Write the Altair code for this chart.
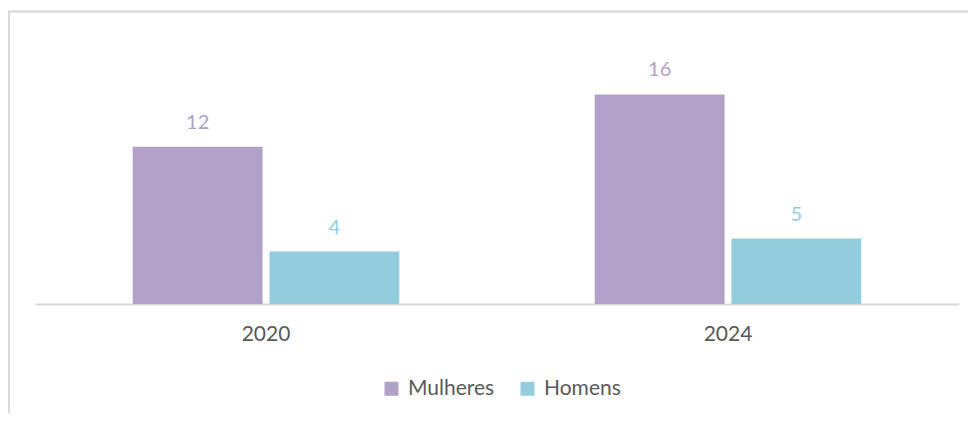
import altair as alt
import pandas as pd

years = ["2020", "2020", "2024", "2024"]
sexes = ["Mulheres", "Homens", "Mulheres", "Homens"]
values = [12, 4, 16, 5]

series_order = ["Mulheres", "Homens"]
series_colors = ["#b2a1c7", "#93cddd"]

df = pd.DataFrame({"ano": years, "sexo": sexes, "valor": values})

FONT = "Lato"
GRAY = "#595959"

x_enc = alt.X("ano:N", title=None,
              scale=alt.Scale(paddingInner=0.423, paddingOuter=0.2115),
              axis=alt.Axis(labelAngle=0, labelFont=FONT, labelFontSize=21,
                            labelColor=GRAY, ticks=False, domainColor="#d9d9d9",
                            domainWidth=2, labelPadding=19))
xoff = alt.XOffset("sexo:N", sort=series_order,
                   scale=alt.Scale(paddingInner=0.05, paddingOuter=0))
y_enc = alt.Y("valor:Q", scale=alt.Scale(domain=[0, 20], nice=False), axis=None)
color_scale = alt.Scale(domain=series_order, range=series_colors)

bars = alt.Chart(df).mark_bar().encode(
    x=x_enc, xOffset=xoff, y=y_enc,
    color=alt.Color("sexo:N", scale=color_scale, sort=series_order,
                    legend=alt.Legend(title=None, orient="none", direction="horizontal",
                                      legendX=346, legendY=336,
                                      symbolType="square", symbolSize=196,
                                      symbolStrokeWidth=0,
                                      labelFont=FONT, labelFontSize=21, labelColor=GRAY,
                                      labelOffset=6, columnPadding=22)),
)

labels = alt.Chart(df).mark_text(font=FONT, fontSize=20, baseline="alphabetic", dy=-18).encode(
    x=x_enc, xOffset=xoff, y=y_enc,
    text=alt.Text("valor:Q"),
    color=alt.Color("sexo:N", scale=color_scale, sort=series_order, legend=None),
)

border_top = alt.Chart(df).mark_rule(color="#d9d9d9", strokeWidth=1.5).encode(
    x=alt.value(-27), x2=alt.value(940), y=alt.value(-30.5))
border_left = alt.Chart(df).mark_rule(color="#d9d9d9", strokeWidth=1.5).encode(
    x=alt.value(-26.2), y=alt.value(-31), y2=alt.value(380))

chart = alt.layer(border_top, border_left, bars, labels).properties(
    width=924, height=262,
    autosize=alt.AutoSizeParams(type="none"),
    padding={"left": 27, "top": 34, "right": 9, "bottom": 109},
).configure_view(stroke=None)

chart.save("out.html", embed_options={"renderer": "svg", "actions": False})
